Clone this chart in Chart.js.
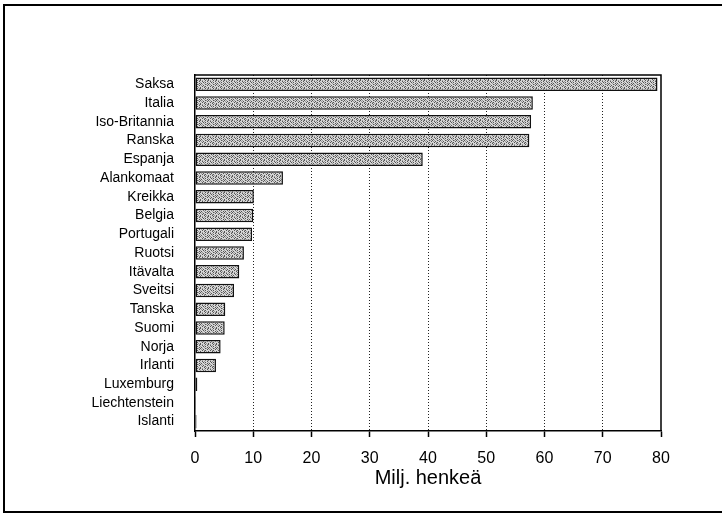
<!DOCTYPE html>
<html>
<head>
<meta charset="utf-8">
<script src="https://cdn.jsdelivr.net/npm/chart.js@4/dist/chart.umd.min.js"></script>
<style>
  html, body { margin: 0; padding: 0; background: #fff; }
  #wrap { width: 722px; height: 521px; position: relative; }
</style>
</head>
<body>
<div id="wrap"><canvas id="chart"></canvas></div>
<script>
// Väkiluku maittain (milj. henkeä)
const countries = [
  'Saksa', 'Italia', 'Iso-Britannia', 'Ranska', 'Espanja', 'Alankomaat',
  'Kreikka', 'Belgia', 'Portugali', 'Ruotsi', 'Itävalta', 'Sveitsi',
  'Tanska', 'Suomi', 'Norja', 'Irlanti', 'Luxemburg', 'Liechtenstein', 'Islanti'
];
const population = [
  79.4, 58.0, 57.7, 57.4, 39.1, 15.1,
  10.1, 10.0, 9.8, 8.4, 7.6, 6.7,
  5.2, 5.1, 4.4, 3.6, 0.4, 0.03, 0.26
];
const xTicks = [0, 10, 20, 30, 40, 50, 60, 70, 80];
const axisTitle = 'Milj. henkeä';

const FONT = '"Liberation Sans", Arial, Helvetica, sans-serif';

// rasterikuvio palkkeihin
function makePattern(ctx) {
  const rows = [
    '#.+..#.+',
    '..#.+..#',
    '+..#.#..',
    '.#..+..#',
    '#.+..#+.',
    '.+.#...#',
    '..#.+#..',
    '#...#.+.',
  ];
  const shade = { '#': 0x55, '+': 0x9a, '.': 0xd6 };
  const p = document.createElement('canvas');
  p.width = 8; p.height = 8;
  const pc = p.getContext('2d');
  rows.forEach((r, y) => {
    [...r].forEach((ch, x) => {
      const v = shade[ch];
      pc.fillStyle = `rgb(${v},${v},${v})`;
      pc.fillRect(x, y, 1, 1);
    });
  });
  return ctx.createPattern(p, 'repeat');
}

// kehys + kuva-alueen ylä- ja oikea reuna
const framePlugin = {
  id: 'frame',
  beforeDraw(chart) {
    const c = chart.ctx;
    c.save();
    c.fillStyle = '#fff';
    c.fillRect(0, 0, chart.width, chart.height);
    c.strokeStyle = '#000';
    c.lineWidth = 2;
    c.beginPath();
    c.moveTo(chart.width + 2, 5);
    c.lineTo(4, 5);
    c.lineTo(4, 512);
    c.lineTo(chart.width + 2, 512);
    c.stroke();
    c.restore();
  },
  afterDatasetsDraw(chart) {
    const a = chart.chartArea;
    const c = chart.ctx;
    c.save();
    c.strokeStyle = '#000';
    c.lineWidth = 1.5;
    c.beginPath();
    c.moveTo(a.left, a.top);
    c.lineTo(a.right, a.top);
    c.lineTo(a.right, a.bottom);
    c.stroke();
    c.restore();
  }
};

const canvas = document.getElementById('chart');
const ctx = canvas.getContext('2d');

new Chart(canvas, {
  type: 'bar',
  data: {
    labels: countries,
    datasets: [{
      data: population,
      backgroundColor: makePattern(ctx),
      borderColor: '#111',
      borderWidth: 1.5,
      borderSkipped: false,
      categoryPercentage: 1.0,
      barPercentage: 0.72,
    }],
  },
  options: {
    indexAxis: 'y',
    responsive: true,
    maintainAspectRatio: false,
    animation: false,
    devicePixelRatio: 1,
    layout: { padding: { left: 0, top: 75, right: 61, bottom: 0 } },
    plugins: {
      legend: { display: false },
      tooltip: { enabled: false },
    },
    scales: {
      x: {
        type: 'linear',
        min: 0,
        max: 80,
        afterBuildTicks: (scale) => { scale.ticks = xTicks.map(v => ({ value: v })); },
        afterFit: (scale) => { scale.height = 90; },
        ticks: {
          color: '#000',
          padding: 12,
          font: { size: 16, family: FONT },
        },
        grid: {
          color: (c) => (c.tick && (c.tick.value === 0 || c.tick.value === 80)) ? 'rgba(0,0,0,0)' : '#222',
          lineWidth: 1,
          drawTicks: true,
          tickLength: 6,
          tickColor: '#000',
          tickWidth: 1.5,
          tickBorderDash: [],
        },
        border: { display: true, color: '#000', width: 1.5, dash: [1, 2] },
        title: {
          display: true,
          text: axisTitle,
          color: '#000',
          font: { size: 20, family: FONT },
          padding: { top: 0, bottom: 31 },
        },
      },
      y: {
        afterFit: (scale) => { scale.width = 195; },
        ticks: {
          color: '#000',
          padding: 21,
          autoSkip: false,
          font: { size: 14, family: FONT },
        },
        grid: { display: false, drawTicks: false },
        border: { display: true, color: '#000', width: 1.5 },
      },
    },
  },
  plugins: [framePlugin],
});
</script>
</body>
</html>
